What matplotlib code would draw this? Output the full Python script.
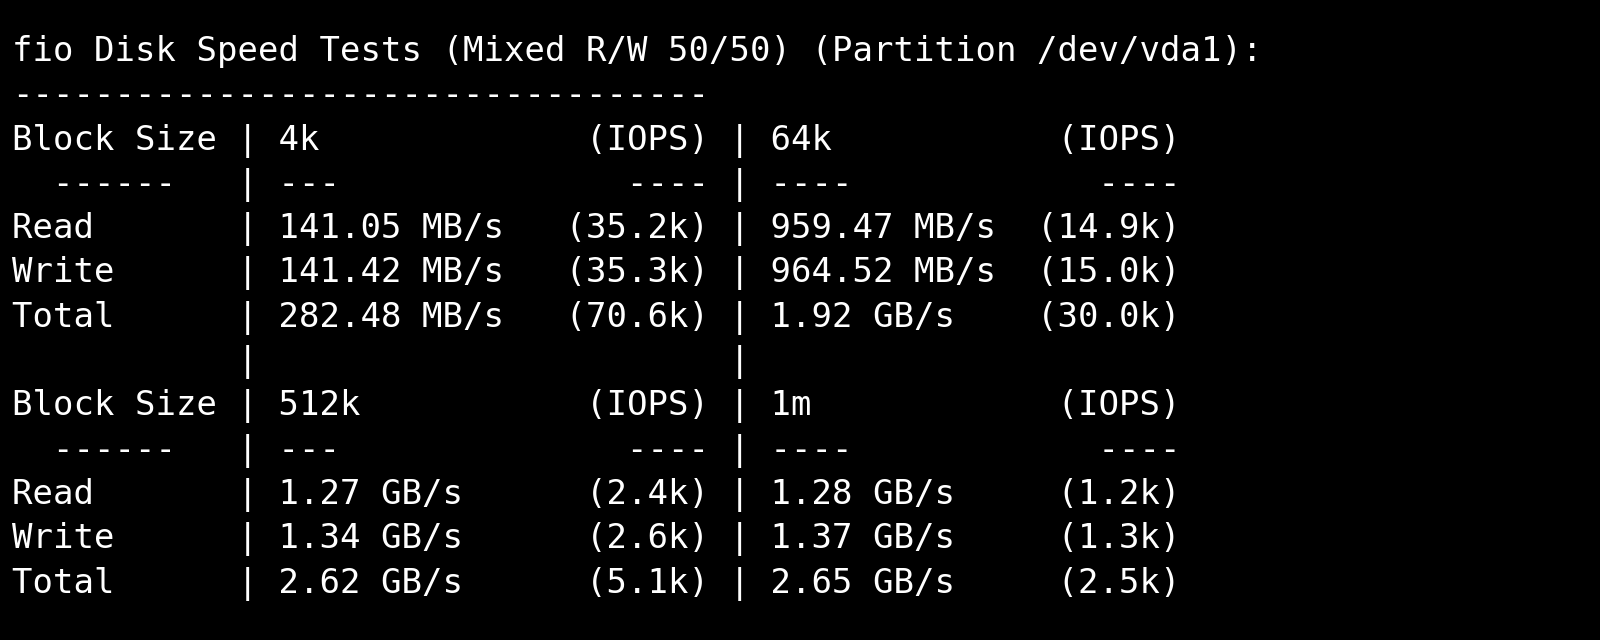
import matplotlib
matplotlib.use("Agg")
import matplotlib.pyplot as plt

title = "fio Disk Speed Tests (Mixed R/W 50/50) (Partition /dev/vda1):"
block_sizes = [("4k", "64k"), ("512k", "1m")]
row_names = ["Read", "Write", "Total"]
speeds = [
    [("141.05 MB/s", "959.47 MB/s"), ("141.42 MB/s", "964.52 MB/s"), ("282.48 MB/s", "1.92 GB/s")],
    [("1.27 GB/s", "1.28 GB/s"), ("1.34 GB/s", "1.37 GB/s"), ("2.62 GB/s", "2.65 GB/s")],
]
iops = [
    [("(35.2k)", "(14.9k)"), ("(35.3k)", "(15.0k)"), ("(70.6k)", "(30.0k)")],
    [("(2.4k)", "(1.2k)"), ("(2.6k)", "(1.3k)"), ("(5.1k)", "(2.5k)")],
]


def fmt(c0, a, b, c, d):
    return f"{c0:<10} | {a:<13} {b:>7} | {c:<12} {d:>7}"


lines = [title, "-" * 34]
for i, (bs1, bs2) in enumerate(block_sizes):
    lines.append(fmt("Block Size", bs1, "(IOPS)", bs2, "(IOPS)"))
    lines.append(fmt("  ------", "---", "----", "----", "----"))
    for j, name in enumerate(row_names):
        lines.append(fmt(name, speeds[i][j][0], iops[i][j][0], speeds[i][j][1], iops[i][j][1]))
    if i == 0:
        lines.append(fmt("", "", "", "", "").rstrip())

W, H = 1600, 640
fig = plt.figure(figsize=(W / 100, H / 100), dpi=100)
fig.patch.set_facecolor("black")

baseline0 = 61
step = 44.3
for k, line in enumerate(lines):
    y = baseline0 + k * step
    fig.text(12 / W, 1 - y / H, line, color="white", fontsize=24.5,
             family="DejaVu Sans Mono", va="baseline", ha="left")

fig.savefig("out.png", dpi=100, facecolor="black")
